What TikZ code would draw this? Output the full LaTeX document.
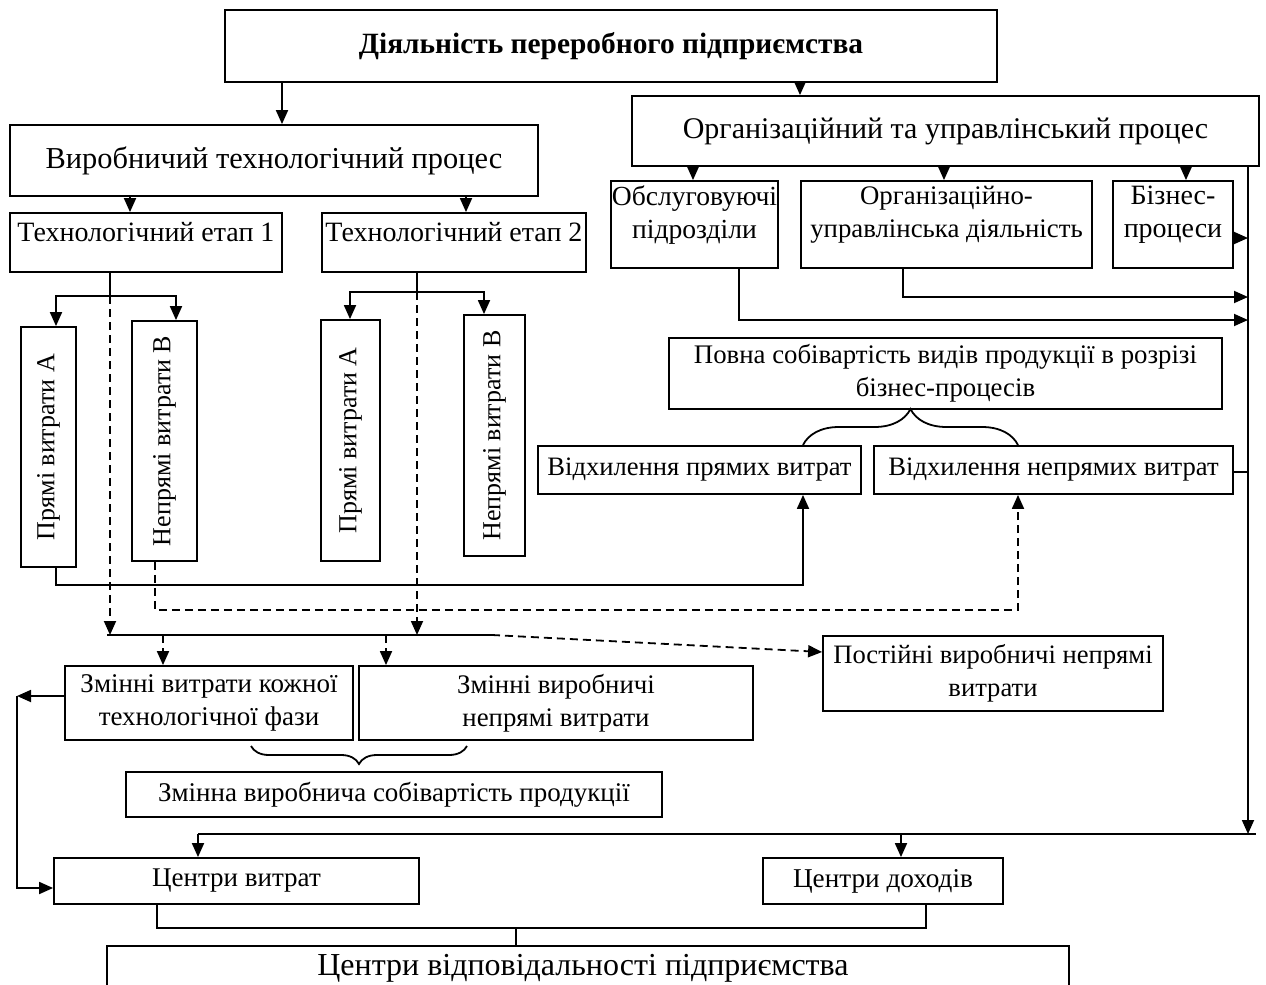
\documentclass[tikz,border=0pt]{standalone}
\usepackage{fontspec}
\usepackage{graphicx}
\setmainfont{Liberation Serif}
\usetikzlibrary{arrows.meta,decorations.pathreplacing}
\newcommand\fs{\fontsize{13.4}{16.5}\selectfont}
\tikzset{
  box/.style={draw, line width=0.9pt, inner sep=0pt, align=center, font=\fs},
  txt/.style={inner sep=0pt, align=center, font=\fs},
  fsz/.style={font={\fontsize{#1}{16.5}\selectfont}},
  conn/.style={line width=0.9pt},
  arr/.style={conn, -{Triangle[length=7pt,width=6pt]}},
  dsh/.style={dash pattern=on 4pt off 2.5pt},
  brc/.style={conn, decorate},
}
% \bx[opts]{name}{x1}{y1}{x2}{y2}{text}
\newcommand\bx[7][]{\node[box, #1, minimum width={(#5-#3)*0.5pt}, minimum height={(#6-#4)*0.5pt}] (#2) at ({(#3+#5)/2},{(#4+#6)/2}) {#7};}
\begin{document}
\begin{tikzpicture}[x=0.5pt, y=-0.5pt]
\useasboundingbox (0,0) rectangle (1266,985);
\clip (0,0) rectangle (1266,985);

% boxes
\bx[fsz=14.7]{title}{225}{10}{997}{82}{\bfseries Діяльність переробного підприємства}
\bx[fsz=15.2]{vp}{10}{125}{538}{196}{Виробничий технологічний процес}
\bx[fsz=15]{org}{632}{96}{1259}{166}{Організаційний та управлінський процес}
\bx{st1}{10}{213}{282}{272}{}
\node[txt, fsz=14] (st1t) at (146,232) {Технологічний етап 1};
\bx{st2}{322}{213}{586}{272}{}
\node[txt, fsz=14] (st2t) at (454,232) {Технологічний етап 2};
\bx{obs}{611}{181}{778}{268}{}
\node[txt, fsz=13.8] (obst) at (694.5,215) {Обслуговуючі\\підрозділи};
\bx{oud}{801}{181}{1092}{268}{}
\node[txt] (oudt) at (946.5,215) {Організаційно-\\управлінська діяльність};
\bx{biz}{1113}{181}{1233}{268}{}
\node[txt, fsz=14] (bizt) at (1173,215) {Бізнес-\\процеси};
\bx{povna}{669}{338}{1222}{409}{Повна собівартість видів продукції в розрізі\\бізнес-процесів}
\bx[fsz=13.3]{vpr}{538}{446}{861}{494}{Відхилення прямих витрат}
\bx[fsz=13.3]{vnp}{874}{446}{1233}{494}{Відхилення непрямих витрат}
\bx[fsz=13]{s1a}{21}{327}{76}{567}{\rotatebox{90}{Прямі витрати А}}
\bx[fsz=13]{s1b}{132}{321}{197}{561}{\rotatebox{90}{Непрямі витрати В}}
\bx[fsz=13]{s2a}{321}{320}{380}{561}{\rotatebox{90}{Прямі витрати А}}
\bx[fsz=13]{s2b}{464}{315}{525}{556}{\rotatebox{90}{Непрямі витрати В}}
\bx[fsz=13.3]{pst}{823}{636}{1163}{711}{Постійні виробничі непрямі\\витрати}
\bx[fsz=13.5]{zv}{65}{666}{353}{740}{Змінні витрати кожної\\технологічної фази}
\bx{znv}{359}{666}{753}{740}{Змінні виробничі\\непрямі витрати}
\bx[fsz=13.5]{zmin}{126}{772}{662}{817}{Змінна виробнича собівартість продукції}
\bx[fsz=13.5]{cv}{54}{858}{419}{904}{Центри витрат}
\bx[fsz=13.6]{cd}{763}{858}{1003}{904}{Центри доходів}
\bx{cvd}{107}{946}{1069}{1010}{}
\node[txt, fsz=16] (cvdt) at (583,968) {Центри відповідальності підприємства};

% top level arrows
\draw[arr] (title.south -| 282,0) -- (vp.north -| 282,0);
\draw[arr] (title.south -| 800,0) -- (org.north -| 800,0);
\draw[arr] (vp.south -| 130,0) -- (st1.north -| 130,0);
\draw[arr] (vp.south -| 466,0) -- (st2.north -| 466,0);
\draw[arr] (org.south -| 693,0) -- (obs.north -| 693,0);
\draw[arr] (org.south -| 944,0) -- (oud.north -| 944,0);
\draw[arr] (org.south -| 1186,0) -- (biz.north -| 1186,0);

% stage 1 branch
\coordinate (b1) at (110,296);
\draw[conn] (st1.south -| b1) -- (b1);
\draw[arr] (b1) -| (s1a.north -| 56,0);
\draw[arr] (b1) -| (s1b.north -| 176,0);
% stage 2 branch
\coordinate (b2) at (417,292);
\draw[conn] (st2.south -| b2) -- (b2);
\draw[arr] (b2) -| (s2a.north -| 350,0);
\draw[arr] (b2) -| (s2b.north -| 484,0);

% collecting line
\coordinate (h1) at (107,635);
\coordinate (h2) at (492,635);
\draw[arr,dsh] (b1) -- (b1 |- h1);
\draw[arr,dsh] (b2) -- (b2 |- h1);
\draw[conn] (h1) -- (h2);
\draw[arr,dsh] (h2) -- (pst.west |- 0,652);
\coordinate (d1) at (163,635);
\coordinate (d2) at (386,635);
\draw[arr,dsh] (d1) -- (zv.north -| d1);
\draw[arr,dsh] (d2) -- (znv.north -| d2);

% direct / indirect to deviations
\draw[arr] (s1a.south -| 56,0) |- (803,585) -- (vpr.south -| 803,0);
\draw[arr,dsh] (s1b.south -| 155,0) |- (1018,610) -- (vnp.south -| 1018,0);

% braces
\coordinate (bt1) at (803,445);
\coordinate (bt2) at (1018,445);
\draw[brc, decoration={brace, amplitude=18pt}] (bt1) -- (bt2);
\coordinate (bb1) at (467,746);
\coordinate (bb2) at (251,746);
\draw[brc, decoration={brace, amplitude=9pt}] (bb1) -- (bb2);

% right vertical bus
\coordinate (vr) at (1248,834);
\draw[arr] (org.south -| vr) -- (vr);
\draw[arr] (biz.east |- 0,238) -- (vr |- 0,238);
\draw[arr] (oud.south -| 903,0) |- (vr |- 0,297);
\draw[arr] (obs.south -| 739,0) |- (vr |- 0,320);
\draw[conn] (vnp.east |- 0,472) -- (vr |- 0,472);

% bottom bus
\coordinate (hb1) at (198,834);
\coordinate (hb2) at (1256,834);
\draw[conn] (hb1) -- (hb2);
\draw[arr] (hb1) -- (cv.north -| hb1);
\draw[arr] (901,834) -- (cd.north -| 901,0);

% left loop
\coordinate (lc) at (17,696);
\draw[arr] (zv.west |- lc) -- (lc);
\draw[arr] (lc) |- (cv.west |- 0,888);

% bottom join
\draw[conn] (cv.south -| 157,0) |- (926,928) -- (cd.south -| 926,0);
\draw[conn] (516,928) -- (cvd.north -| 516,0);
\end{tikzpicture}
\end{document}
